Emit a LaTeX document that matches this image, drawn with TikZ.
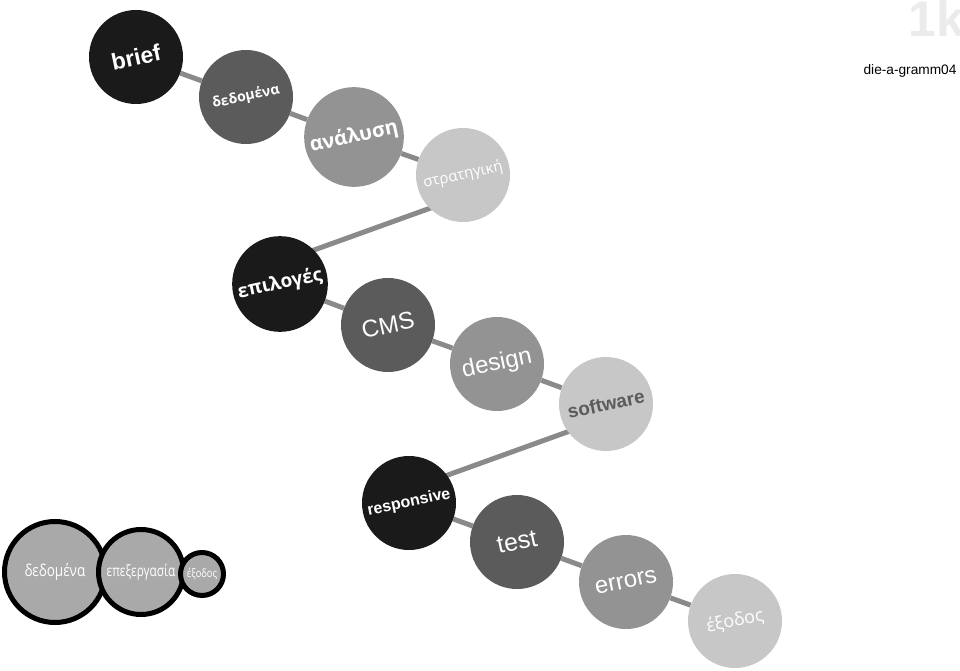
\documentclass[tikz,border=0pt]{standalone}
\usepackage{fontspec}
\setmainfont{Liberation Sans}
\newfontfamily\grk{Open Sans}
\usetikzlibrary{backgrounds}

\definecolor{toneA}{HTML}{1A1A1A}
\definecolor{toneB}{HTML}{5B5B5B}
\definecolor{toneC}{HTML}{939393}
\definecolor{toneD}{HTML}{C7C7C7}
\definecolor{linkgray}{HTML}{8A8A8A}
\definecolor{legendgray}{HTML}{A9A9A9}

\newcommand{\tilt}[1]{\rotatebox{12}{#1}}
\newcommand{\fs}[1]{\fontsize{#1}{#1}\selectfont}

\begin{document}
\begin{tikzpicture}[
  x=1pt, y=-1pt,
  bubble/.style={circle, minimum size=94pt, inner sep=0pt, text=white},
  link/.style={draw=linkgray, line width=5pt},
  legend/.style={circle, draw=black, line width=5pt, fill=legendgray, inner sep=0pt, text=white}
]
\useasboundingbox (0,0) rectangle (960,671);

% Title
\node[anchor=base west, font=\fs{50}\bfseries, text=black!8] (tag) at (905,37) {1k};
\node[anchor=base east, font=\fs{13.7}] (code) at (960,75) {die-a-gramm04};

% First row
\node[bubble, fill=toneA, font=\fs{23}\bfseries] (brief) at (136,57) {\tilt{brief}};
\node[bubble, fill=toneB, font=\grk\fs{14}\bfseries] (data) at (246,97) {\tilt{δεδομένα}};
\node[bubble, fill=toneC, font=\grk\fs{20}\bfseries] (anal) at (354,137) {\tilt{ανάλυση}};
\node[bubble, fill=toneD, font=\grk\fs{15}] (strat) at (463,175) {\tilt{στρατηγική}};

% Second row
\node[bubble, fill=toneA, font=\grk\fs{19}\bfseries] (epil) at (280,284) {\tilt{επιλογές}};
\node[bubble, fill=toneB, font=\fs{24}] (cms) at (388,325) {\tilt{CMS}};
\node[bubble, fill=toneC, font=\fs{24}] (design) at (497,364) {\tilt{design}};
\node[bubble, fill=toneD, font=\fs{19}\bfseries, text=toneB] (soft) at (606,404) {\tilt{software}};

% Third row
\node[bubble, fill=toneA, font=\fs{16}\bfseries] (resp) at (409,503) {\tilt{responsive}};
\node[bubble, fill=toneB, font=\fs{25}] (test) at (517,542) {\tilt{test}};
\node[bubble, fill=toneC, font=\fs{24}] (errors) at (626,582) {\tilt{errors}};
\node[bubble, fill=toneD, font=\grk\fs{18}] (exit) at (735,621) {\tilt{έξοδος}};

% Connectors
\begin{scope}[on background layer]
\draw[link] (brief) -- (data) -- (anal) -- (strat);
\draw[link, shorten <=-4pt, shorten >=-4pt] (strat.225) -- (epil.45);
\draw[link] (epil) -- (cms) -- (design) -- (soft);
\draw[link, shorten <=-4pt, shorten >=-4pt] (soft.216) -- (resp.36);
\draw[link] (resp) -- (test) -- (errors) -- (exit);
\end{scope}

% Legend
\node[legend, minimum size=101pt, font=\grk\fs{16.5}] (lin) at (55,572) {\scalebox{0.82}[1]{δεδομένα}};
\node[legend, minimum size=85pt, font=\grk\fs{15.5}] (lproc) at (141,572) {\scalebox{0.76}[1]{επεξεργασία}};
\node[legend, minimum size=43pt, font=\grk\fs{11.5}] (lout) at (202,574) {\scalebox{0.82}[1]{έξοδος}};

\end{tikzpicture}
\end{document}
